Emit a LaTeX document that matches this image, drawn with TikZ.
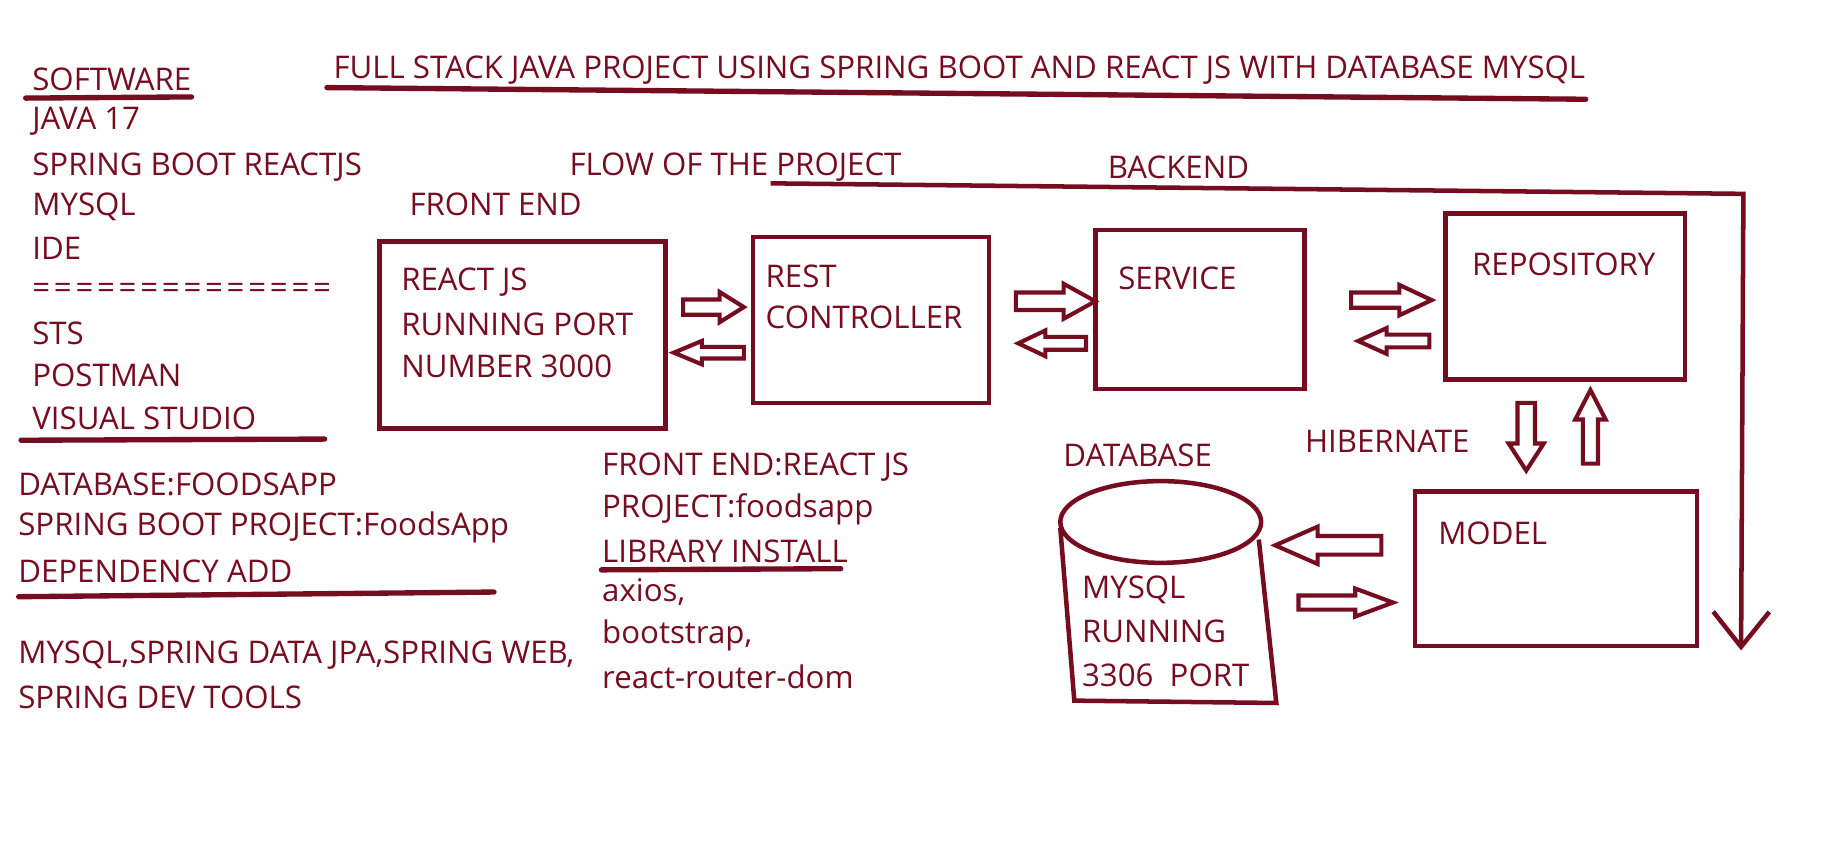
\documentclass[tikz,border=0pt]{standalone}
\usepackage{fontspec}
\setmainfont{Open Sans}
\usetikzlibrary{arrows.meta}
\definecolor{maroon}{RGB}{118,12,32}
\tikzset{
  txt/.style={anchor=west,inner sep=0pt,text=maroon,font=\fontsize{7.6}{9}\selectfont},
  box/.style={draw=maroon,line width=1.1pt},
  uline/.style={draw=maroon,line width=1.3pt,line cap=round},
  fat/.style={draw=maroon,line width=1pt},
  fatR/.pic={\draw[fat](0,-0.5)--(0.6,-0.5)--(0.6,-1)--(1,0)--(0.6,1)--(0.6,0.5)--(0,0.5)--cycle;},
  fatD/.pic={\draw[fat](-0.5,0)--(-0.5,0.6)--(-1,0.6)--(0,1)--(1,0.6)--(0.5,0.6)--(0.5,0)--cycle;},
}
\begin{document}
\begin{tikzpicture}[x=0.01cm,y=-0.01cm]
\useasboundingbox[fill=white](0,0)rectangle(1568,724);
%title
\node[txt](title) at (285,60){FULL STACK JAVA PROJECT USING SPRING BOOT AND REACT JS WITH DATABASE MYSQL};
\draw[uline](280,75)--(1358,85);
%software list
\foreach \t [count=\i] in {SOFTWARE,JAVA 17,SPRING BOOT,MYSQL,IDE,{\addfontfeature{LetterSpace=12}==============},STS,POSTMAN,VISUAL STUDIO}
  {\node[txt](sw\i) at (27,68+36.25*\i-36.25){\t};}
\node[txt](reactjs) at (208,143){REACTJS};
\draw[uline](22,84)--(164,83);
\draw[uline](18,377)--(278,376);
%project notes
\foreach \y/\t [count=\i] in {415/DATABASE:FOODSAPP,452/SPRING BOOT PROJECT:FoodsApp,489/DEPENDENCY ADD,561/{MYSQL,SPRING DATA JPA,SPRING WEB,},597/SPRING DEV TOOLS}
  {\node[txt](note\i) at (15,\y){\t};}
\draw[uline](16,511)--(423,507);
\foreach \y/\t [count=\i] in {400/FRONT END:REACT JS,436/PROJECT:foodsapp,472/LIBRARY INSTALL,507/{axios,},544/{bootstrap,},580/react-router-dom}
  {\node[txt](lib\i) at (515,\y){\t};}
\draw[uline](515,488)--(720,487);
%headings
\node[txt](front) at (350,175){FRONT END};
\node[txt](flow) at (487,143){FLOW OF THE PROJECT};
\node[txt](back) at (948,143){BACKEND};
\node[txt](dbname) at (910,390){DATABASE};
\node[txt](hib) at (1117,378){HIBERNATE};
%boxes
\node[box,minimum width=2.45cm,minimum height=1.6cm](react) at (447.5,287){};
\node[box,minimum width=2.02cm,minimum height=1.42cm](rest) at (746,274){};
\node[box,minimum width=1.79cm,minimum height=1.36cm](service) at (1027.5,265){};
\node[box,minimum width=2.05cm,minimum height=1.42cm](repo) at (1340.5,254){};
\node[box,minimum width=2.41cm,minimum height=1.32cm](model) at (1332.5,487){};
\foreach \y/\t in {242/REACT JS,278/RUNNING PORT,314/NUMBER 3000}{\node[txt] at (343,\y){\t};}
\node[txt](resttxt) at (655,237){REST};
\node[txt](ctrltxt) at (655,272){CONTROLLER};
\node[txt](servtxt) at (957,238){SERVICE};
\node[txt](repotxt) at (1260,226){REPOSITORY};
\node[txt](modeltxt) at (1231,457){MODEL};
%database
\coordinate(db) at (994,447);
\draw[box](db) ellipse [x radius=86,y radius=35];
\draw[box](908,452)--(920,600)--(1093,602)--(1078,462);
\foreach \y/\t in {505/MYSQL,541/RUNNING,578/{3306~ PORT}}{\node[txt] at (926,\y){\t};}
%flow line
\draw[box,-{Straight Barb[length=0.3cm,width=0.48cm]}](660,157)--(1493,166)--(1491,557);
%block arrows
\pic[xscale=52,yscale=13](a1) at (585,263){fatR};
\pic[xscale=-60,yscale=10](a2) at (637,302){fatR};
\pic[xscale=68,yscale=15](a3) at (870,258){fatR};
\pic[xscale=-58,yscale=11](a4) at (930,294){fatR};
\pic[xscale=69,yscale=13](a5) at (1157,257){fatR};
\pic[xscale=-61,yscale=11](a6) at (1224,292){fatR};
\pic[xscale=15,yscale=58](a7) at (1307,345){fatD};
\pic[xscale=13,yscale=-63](a8) at (1362,397){fatD};
\pic[xscale=-91,yscale=16](a9) at (1183,467){fatR};
\pic[xscale=81,yscale=12](a10) at (1112,516){fatR};
\end{tikzpicture}
\end{document}
